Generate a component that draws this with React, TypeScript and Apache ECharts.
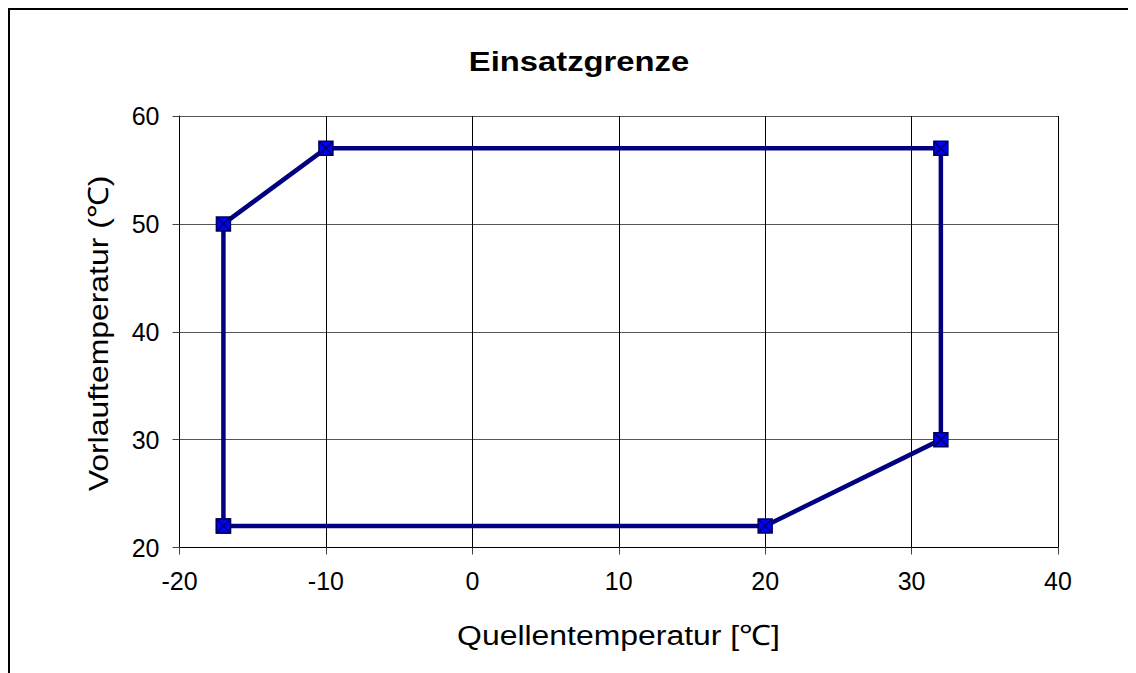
import React, { useEffect, useRef } from "react";
import * as echarts from "echarts";

const titleText = "Einsatzgrenze";
const xAxisName = "Quellentemperatur [℃]";
const yAxisName = "Vorlauftemperatur (℃)";
const xValues = [-17, -17, -10, 32, 32, 20, -17];
const yValues = [22, 50, 57, 57, 30, 22, 22];
const xMin = -20, xMax = 40, xStep = 10;
const yMin = 20, yMax = 60, yStep = 10;

const FONT = "'Liberation Sans', Arial, Helvetica, sans-serif";

export default function App() {
  const ref = useRef<HTMLDivElement>(null);
  useEffect(() => {
    document.documentElement.style.overflow = "hidden";
    const chart = echarts.init(ref.current!, undefined, { renderer: "svg" });
    const data = xValues.map((x, i) => [x, yValues[i]]);
    chart.setOption({
      animation: false,
      backgroundColor: "#fff",
      grid: { left: 171.5, top: 108, right: 78, bottom: 125.5, containLabel: false },
      xAxis: {
        type: "value", min: xMin, max: xMax, interval: xStep,
        axisLine: { show: true, onZero: false, lineStyle: { color: "#000", width: 1 } },
        axisTick: { show: true, inside: false, length: 7, lineStyle: { color: "#444" } },
        axisLabel: { color: "#000", fontSize: 25, fontFamily: FONT, margin: 21 },
        splitLine: { show: true, lineStyle: { color: "#000", width: 1 } },
      },
      yAxis: {
        type: "value", min: yMin, max: yMax, interval: yStep,
        axisLine: { show: true, onZero: false, lineStyle: { color: "#000", width: 1 } },
        axisTick: { show: true, inside: false, length: 7, lineStyle: { color: "#444" } },
        axisLabel: { color: "#000", fontSize: 25, fontFamily: FONT, margin: 20 },
        splitLine: { show: true, lineStyle: { color: "#555", width: 1 } },
      },
      series: [
        {
          type: "line",
          data,
          symbol: "path://M0,0L12,0L12,12L0,12Z M0,0L12,12 M12,0L0,12",
          symbolSize: 14,
          itemStyle: { color: "#0000FF", borderColor: "#000060", borderWidth: 1.5 },
          lineStyle: { color: "#000080", width: 4.5 },
        },
      ],
      graphic: [
        {
          type: "polyline",
          shape: { points: [[1, 2000], [1, 1], [2000, 1]] },
          style: { stroke: "#000", lineWidth: 2, fill: null },
          silent: true,
        },
        {
          type: "text", x: 571, y: 53, scaleX: 1.17,
          style: { text: titleText, font: `bold 28px ${FONT}`, fill: "#000", textAlign: "center", textVerticalAlign: "middle" },
        },
        {
          type: "text", x: 610.5, y: 627, scaleX: 1.14,
          style: { text: xAxisName, font: `28px ${FONT}`, fill: "#000", textAlign: "center", textVerticalAlign: "middle" },
        },
        {
          type: "text", x: 90, y: 325.5, rotation: Math.PI / 2, scaleX: 1.14,
          style: { text: yAxisName, font: `28px ${FONT}`, fill: "#000", textAlign: "center", textVerticalAlign: "middle" },
        },
      ],
    });
    return () => chart.dispose();
  }, []);
  return <div ref={ref} style={{ width: 1128, height: 665 }} />;
}
